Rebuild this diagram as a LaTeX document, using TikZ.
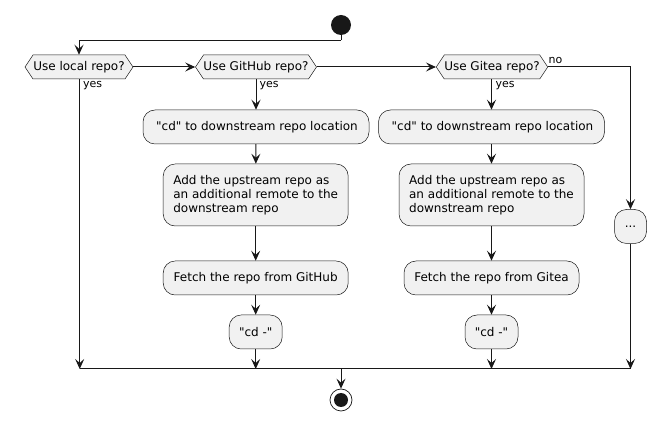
\documentclass[tikz,border=0pt]{standalone}
\usepackage{fontspec}
\setmainfont[Ligatures=TeXReset]{DejaVu Sans}
\usetikzlibrary{arrows.meta,shapes.symbols}
\definecolor{lnc}{HTML}{181818}
\definecolor{boxfill}{HTML}{F1F1F1}
\begin{document}
\begin{tikzpicture}[x=1pt,y=-1pt,
  font=\fontsize{12}{14.2}\selectfont,
  arr/.style={draw=lnc,line width=1pt,-{Stealth[length=10pt,width=9pt,inset=4pt]}},
  ln/.style={draw=lnc,line width=1pt},
  act/.style={draw=lnc,line width=0.5pt,fill=boxfill,rounded corners=12pt,inner sep=0pt,align=left},
  dec/.style={draw=lnc,line width=0.5pt,fill=boxfill,signal,signal to=east and west,signal pointer angle=112.6,inner sep=0pt,minimum height=24pt},
  lbl/.style={inner sep=0pt,font=\fontsize{11}{13}\selectfont}
]
\useasboundingbox (0,0) rectangle (665,430);
% start
\node[circle,fill=lnc,minimum size=20pt,inner sep=0pt] (start) at (341,25) {};
% decisions
\node[dec,minimum width=108pt] (hex1) at (79,67) {Use local repo?};
\node[dec,minimum width=120pt] (hex2) at (256,67) {Use GitHub repo?};
\node[dec,minimum width=111pt] (hex3) at (492,67) {Use Gitea repo?};
% github branch
\node[act,minimum width=226pt,minimum height=34pt] (cd1) at (256,127) {\,"cd" to downstream repo location};
\node[act,minimum width=185pt,minimum height=62pt] (add1) at (255.7,195) {Add the upstream repo as\\an additional remote to the\\downstream repo};
\node[act,minimum width=185pt,minimum height=34pt] (fetch1) at (255.7,278) {Fetch the repo from GitHub};
\node[act,minimum width=53pt,minimum height=34pt] (cdm1) at (255.7,332) {"cd -"};
% gitea branch
\node[act,minimum width=226pt,minimum height=34pt] (cd2) at (491.5,127) {\,"cd" to downstream repo location};
\node[act,minimum width=185pt,minimum height=62pt] (add2) at (491.5,195) {Add the upstream repo as\\an additional remote to the\\downstream repo};
\node[act,minimum width=175pt,minimum height=34pt] (fetch2) at (491.5,278) {Fetch the repo from Gitea};
\node[act,minimum width=53pt,minimum height=34pt] (cdm2) at (491.5,332) {"cd -"};
% other
\node[act,minimum width=32pt,minimum height=34pt] (dots) at (630.5,226.5) {...};
% end
\node[circle,draw=lnc,line width=0.7pt,fill=white,minimum size=22pt,inner sep=0pt] (stop) at (341,400) {};
\node[circle,fill=lnc,minimum size=14pt,inner sep=0pt] (stopin) at (341,400) {};
% junction coordinates
\coordinate (j0) at (341,40.5);
\coordinate (m1) at (79.7,369);
\coordinate (m2) at (255.7,369);
\coordinate (m3) at (491.5,369);
\coordinate (m4) at (630.5,369);
\coordinate (mc) at (341,369);
% connectors
\draw[ln] (start.south) -- (j0);
\draw[arr] (j0) -| (hex1.north);
\draw[arr] (hex1.east) -- (hex2.west);
\draw[arr] (hex2.east) -- (hex3.west);
\draw[arr] (hex3.east) -| (dots.north);
\draw[arr] (hex1.south -| m1) -- (m1);
\draw[arr] (hex2.south -| cd1.north) -- (cd1.north);
\draw[arr] (cd1) -- (add1);
\draw[arr] (add1) -- (fetch1);
\draw[arr] (fetch1) -- (cdm1);
\draw[arr] (cdm1) -- (m2);
\draw[arr] (hex3.south -| cd2.north) -- (cd2.north);
\draw[arr] (cd2) -- (add2);
\draw[arr] (add2) -- (fetch2);
\draw[arr] (fetch2) -- (cdm2);
\draw[arr] (cdm2) -- (m3);
\draw[arr] (dots) -- (m4);
\draw[ln] (m1) -- (m4);
\draw[arr] (mc) -- (stop.north);
% labels
\node[lbl,anchor=west] at (83,86) {yes};
\node[lbl,anchor=west] at (259.5,86) {yes};
\node[lbl,anchor=west] at (495.5,86) {yes};
\node[lbl,anchor=west] at (548.5,61) {no};
\end{tikzpicture}
\end{document}
